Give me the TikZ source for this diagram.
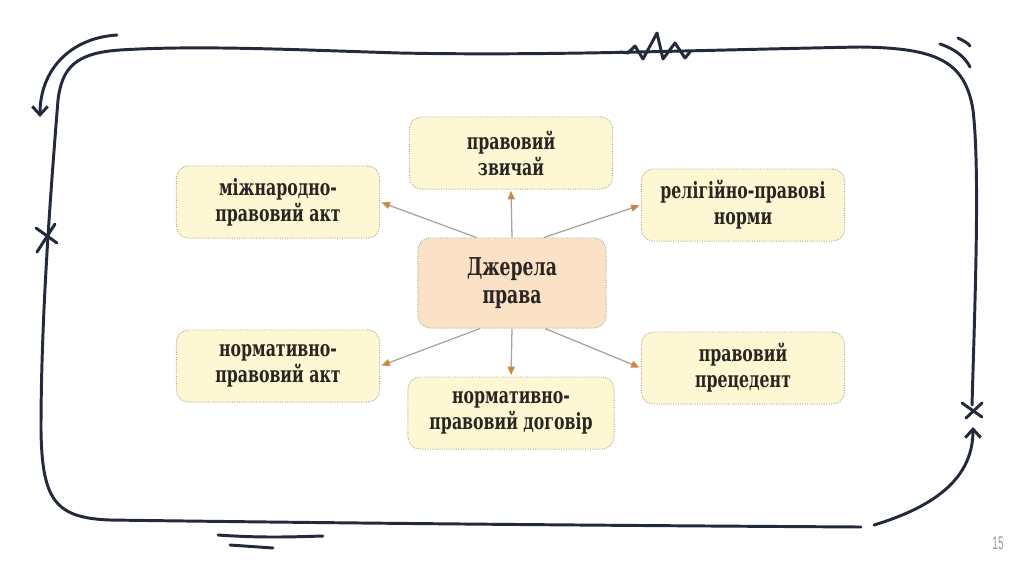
\documentclass[tikz,border=0pt]{standalone}
\usepackage{fontspec}
\setmainfont{DejaVu Serif}[FakeStretch=0.7]
\setsansfont{Liberation Sans}
\usetikzlibrary{positioning, arrows.meta}
\definecolor{frameink}{HTML}{232A3C}
\definecolor{boxfill}{HTML}{FEF7D4}
\definecolor{rootfill}{HTML}{FBE2C6}
\definecolor{boxline}{HTML}{B3AC9C}
\definecolor{linkline}{HTML}{A8A49C}
\definecolor{linktip}{HTML}{C98A45}
\definecolor{textink}{HTML}{2A2520}

\begin{document}
\begin{tikzpicture}[x=0.025cm, y=-0.025cm]
      \tikzstyle{srcbox}=[draw=boxline, densely dotted, line width=0.7pt, fill=boxfill, rounded corners=0.3cm, align=center, text=textink, font={\bfseries\fontsize{16}{18.5}\selectfont}, minimum width=5.08cm, minimum height=1.8cm]
      \tikzstyle{rootbox}=[srcbox, fill=rootfill, minimum width=4.7cm, minimum height=2.25cm, font={\bfseries\fontsize{17.5}{20}\selectfont}]
      \tikzstyle{link}=[draw=linkline, line width=0.9pt, -{Triangle[length=6pt, width=5pt, color=linktip]}, shorten >=1pt]
      \tikzstyle{ink}=[draw=frameink, line width=2.1pt, line cap=round, line join=round]

      \useasboundingbox (0,0) rectangle (1024,574);
      \fill[white] (0,0) rectangle (1024,574);

      % sources
      \node[rootbox] (root) at (512,283) {Джерела\\права};
      \node[srcbox] (custom) at (511,153) {правовий\\звичай};
      \node[srcbox] (intl) at (278,202) {міжнародно-\\правовий акт};
      \node[srcbox] (relig) at (743,205) {релігійно-правові\\норми};
      \node[srcbox] (normact) at (278,366) {нормативно-\\правовий акт};
      \node[srcbox] (preced) at (743,368) {правовий\\прецедент};
      \node[srcbox, minimum width=5.15cm] (treaty) at (511,413) {нормативно-\\правовий договір};

      \draw[link] (root.north) -- (custom.south);
      \draw[link] (root.128) -- (intl.east);
      \draw[link] (root.55) -- (relig.west);
      \draw[link] (root.-125) -- (normact.east);
      \draw[link] (root.-54) -- (preced.west);
      \draw[link] (root.south) -- (treaty.north);

      % hand drawn frame
      \draw[ink] (972,405) .. controls (975,300) and (980,170) .. (973,110)
                 .. controls (965,60) and (935,48) .. (860,47)
                 .. controls (700,50) and (550,56) .. (400,53)
                 .. controls (300,50) and (200,45) .. (120,50)
                 .. controls (75,53) and (62,68) .. (58,100)
                 .. controls (50,200) and (41,320) .. (41,430)
                 .. controls (42,500) and (55,518) .. (110,520)
                 .. controls (400,524) and (700,526) .. (861,527);
      \draw[ink] (620,52) -- (628,53) -- (635,46) -- (643,59) -- (657,33) -- (663,59) -- (675,43) -- (685,58) -- (690,52);
      \draw[ink] (940,44) .. controls (955,49) and (965,57) .. (970,67);
      \draw[ink] (958,38) .. controls (964,41) and (968,43) .. (970,46);
      \draw[ink, -{Straight Barb[length=6pt, width=11pt]}] (117,35) .. controls (70,38) and (40,70) .. (40,117);
      \draw[ink, -{Straight Barb[length=6pt, width=11pt]}] (874,525) .. controls (940,505) and (973,475) .. (973,427);
      \draw[ink] (36,228) -- (57,243) (55,224) -- (37,252);
      \draw[ink] (962,403) -- (982,417) (982,403) -- (966,418);
      \draw[ink] (218,535) .. controls (260,538) and (290,537) .. (323,536);
      \draw[ink] (230,545) -- (273,548);

      \node[text=gray!80, font=\sffamily\fontsize{13}{13}\selectfont] (pagenum) at (998,543) {\scalebox{0.55}[1]{15}};
\end{tikzpicture}
\end{document}
